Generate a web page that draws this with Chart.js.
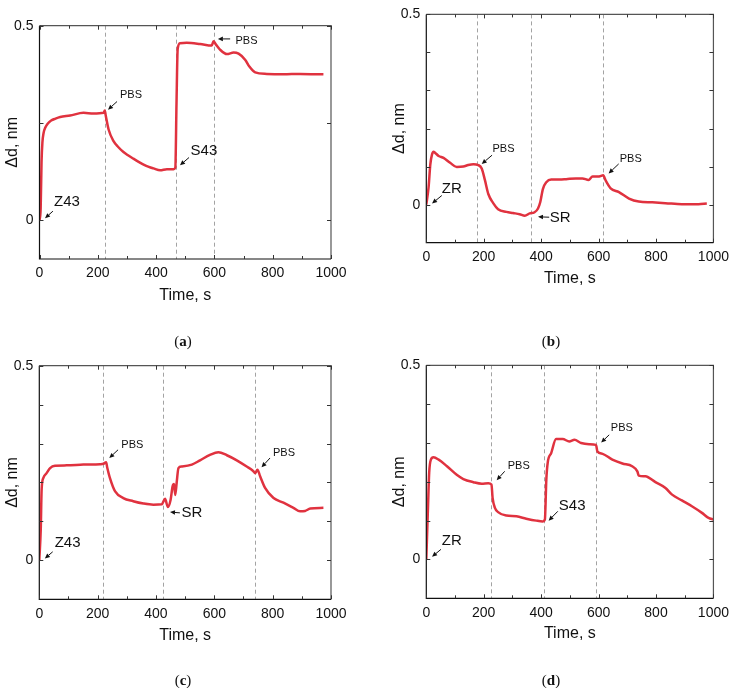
<!DOCTYPE html>
<html><head><meta charset="utf-8">
<script src="https://cdn.jsdelivr.net/npm/chart.js@4.4.0/dist/chart.umd.min.js"></script>
<style>
html,body{margin:0;padding:0;background:#fff;}
#wrap{position:relative;width:735px;height:688px;overflow:hidden;background:#fff;}
canvas{position:absolute;}
.cap{position:absolute;font-family:"Liberation Serif","Times New Roman",serif;font-size:15px;color:#111;transform:translate(-50%,-50%);white-space:nowrap;}
</style></head><body>
<div id="wrap">
<canvas id="ca" width="367" height="330" style="left:0px;top:0px;width:367px;height:330px"></canvas>
<canvas id="cb" width="368" height="330" style="left:367px;top:0px;width:368px;height:330px"></canvas>
<canvas id="cc" width="367" height="348" style="left:0px;top:340px;width:367px;height:348px"></canvas>
<canvas id="cd" width="368" height="348" style="left:367px;top:340px;width:368px;height:348px"></canvas>
<div class="cap" style="left:183px;top:341px">(<b>a</b>)</div>
<div class="cap" style="left:551px;top:341px">(<b>b</b>)</div>
<div class="cap" style="left:183px;top:680px">(<b>c</b>)</div>
<div class="cap" style="left:551px;top:680px">(<b>d</b>)</div>
</div>
<script>
// ---------- data ----------
const xTicks = [0,200,400,600,800,1000];

const aTime = [0,4,7,10,14,20,28,40,55,71,105,151,185,220,224,227,229,237,254,270,288,305,322,340,357,375,391,414,437,460,466,470,474,482,505,551,591,597,605,620,643,666,683,706,720,740,780,837,894,974];
const aVal  = [0,0.03,0.15,0.2,0.224,0.238,0.248,0.256,0.261,0.265,0.269,0.276,0.274,0.276,0.282,0.27,0.262,0.233,0.203,0.188,0.175,0.166,0.158,0.15,0.143,0.137,0.133,0.128,0.131,0.131,0.135,0.30,0.44,0.455,0.456,0.453,0.449,0.46,0.452,0.438,0.427,0.431,0.428,0.412,0.395,0.38,0.376,0.375,0.376,0.375];
const aMarks = [224,467,597];
const aLabels = ['Z43','PBS','S43','PBS'];

const bTime = [0,8,14,20,25,31,43,60,83,106,129,146,164,181,193,204,216,233,250,279,302,325,343,360,377,389,397,406,418,435,464,487,521,544,565,579,602,616,625,642,671,706,740,787,833,890,948,977];
const bVal  = [0,0.046,0.106,0.132,0.139,0.136,0.128,0.123,0.110,0.099,0.100,0.104,0.106,0.104,0.095,0.065,0.028,0.004,-0.012,-0.019,-0.022,-0.025,-0.029,-0.023,-0.020,-0.010,0.007,0.041,0.059,0.066,0.066,0.067,0.069,0.069,0.065,0.074,0.074,0.077,0.063,0.043,0.033,0.016,0.008,0.006,0.004,0.001,0.001,0.003];
const bMarks = [178,364,616];
const bLabels = ['ZR','PBS','SR','PBS'];

const cTime = [0,5,8,14,25,37,54,94,151,208,220,229,233,242,260,288,322,357,391,420,431,441,450,457,462,466,471,477,488,523,551,585,614,643,677,711,734,740,748,757,774,803,837,871,894,911,929,974];
const cVal  = [0,0.08,0.182,0.212,0.224,0.237,0.243,0.244,0.246,0.247,0.248,0.252,0.238,0.212,0.177,0.160,0.152,0.146,0.143,0.144,0.158,0.137,0.155,0.19,0.196,0.168,0.2,0.237,0.241,0.246,0.257,0.271,0.278,0.270,0.257,0.241,0.229,0.224,0.233,0.216,0.186,0.160,0.148,0.135,0.126,0.127,0.133,0.135];
const cMarks = [220,425,740];
const cLabels = ['Z43','PBS','SR','PBS'];

const dTime = [0,6,10,16,25,43,72,106,129,164,193,216,227,231,239,250,279,314,348,383,406,413,418,423,435,452,475,498,516,539,567,591,596,614,648,683,717,735,740,763,798,833,856,890,925,960,983,1000];
const dVal  = [0,0.137,0.223,0.257,0.263,0.257,0.240,0.218,0.207,0.199,0.195,0.196,0.193,0.158,0.133,0.122,0.113,0.111,0.105,0.100,0.098,0.103,0.205,0.25,0.274,0.310,0.310,0.304,0.308,0.300,0.297,0.295,0.278,0.272,0.257,0.247,0.240,0.227,0.216,0.214,0.199,0.184,0.167,0.152,0.137,0.120,0.107,0.103];
const dMarks = [227,409,591];
const dLabels = ['ZR','PBS','S43','PBS'];

// ---------- annotation placement (data coords: text, arrow tail, arrow head) ----------
const aNotePos = [[94,0.046,46,0.023,19,0.005],[314,0.323,266,0.305,235,0.284],[564,0.177,513,0.161,482,0.141],[710,0.461,654,0.466,612,0.466]];
const bNotePos = [[89,0.042,54,0.024,20,0.003],[269,0.146,229,0.13,193,0.107],[466,-0.036,428,-0.033,389,-0.032],[712,0.12,670,0.107,635,0.082]];
const cNotePos = [[97,0.044,46,0.022,19,0.005],[319,0.297,270,0.284,240,0.263],[523,0.123,482,0.122,448,0.124],[839,0.276,791,0.263,762,0.239]];
const dNotePos = [[89,0.047,51,0.026,20,0.007],[322,0.241,273,0.227,245,0.204],[508,0.139,458,0.124,426,0.1],[681,0.339,637,0.321,609,0.301]];

// ---------- rendering ----------
const FONT = '"Liberation Sans", Arial, Helvetica, sans-serif';
Chart.defaults.font.family = FONT;
Chart.defaults.color = '#111';

const boxPlugin = {
  id: 'box',
  beforeDatasetsDraw(chart, args, o) {
    const {ctx, chartArea: a, scales: {x}} = chart;
    ctx.save();
    ctx.strokeStyle = '#a3a3a3'; ctx.lineWidth = 1; ctx.setLineDash([4,3]);
    o.marks.forEach(m => {
      const px = Math.round(x.getPixelForValue(m)) + 0.5;
      ctx.beginPath(); ctx.moveTo(px, a.top); ctx.lineTo(px, a.bottom); ctx.stroke();
    });
    ctx.restore();
  },
  afterDatasetsDraw(chart, args, o) {
    const {ctx, chartArea: a, scales: {x, y}} = chart;
    ctx.save();
    ctx.lineWidth = 1.2;
    ctx.strokeStyle = '#555';
    ctx.beginPath(); ctx.moveTo(a.left, a.top); ctx.lineTo(a.right, a.top); ctx.lineTo(a.right, a.bottom); ctx.stroke();
    ctx.strokeStyle = '#111';
    ctx.beginPath(); ctx.moveTo(a.left, a.top); ctx.lineTo(a.left, a.bottom); ctx.lineTo(a.right, a.bottom); ctx.stroke();
    ctx.lineWidth = 1; ctx.strokeStyle = '#333';
    for (let v = 0; v <= 1000; v += 100) {
      const px = Math.round(x.getPixelForValue(v)) + 0.5;
      const L = (v % 200 === 0) ? 4 : 3;
      ctx.beginPath();
      ctx.moveTo(px, a.bottom); ctx.lineTo(px, a.bottom - L);
      ctx.moveTo(px, a.top); ctx.lineTo(px, a.top + L);
      ctx.stroke();
    }
    y.ticks.forEach(t => {
      const py = Math.round(y.getPixelForValue(t.value)) + 0.5;
      const L = 4;
      ctx.beginPath();
      ctx.moveTo(a.left, py); ctx.lineTo(a.left + L, py);
      ctx.moveTo(a.right, py); ctx.lineTo(a.right - L, py);
      ctx.stroke();
    });
    o.labels.forEach((txt, i) => {
      const p = o.pos[i];
      const tx = x.getPixelForValue(p[0]), ty = y.getPixelForValue(p[1]);
      const x1 = x.getPixelForValue(p[2]), y1 = y.getPixelForValue(p[3]);
      const x2 = x.getPixelForValue(p[4]), y2 = y.getPixelForValue(p[5]);
      ctx.strokeStyle = '#111'; ctx.fillStyle = '#111'; ctx.lineWidth = 1;
      const ang = Math.atan2(y2 - y1, x2 - x1);
      const hl = 5, hw = 2.3;
      const bx = x2 - hl * Math.cos(ang), by = y2 - hl * Math.sin(ang);
      ctx.beginPath(); ctx.moveTo(x1, y1); ctx.lineTo(bx, by); ctx.stroke();
      ctx.beginPath();
      ctx.moveTo(x2, y2);
      ctx.lineTo(bx + hw * Math.sin(ang), by - hw * Math.cos(ang));
      ctx.lineTo(bx - hw * Math.sin(ang), by + hw * Math.cos(ang));
      ctx.closePath(); ctx.fill();
      ctx.font = (txt === 'PBS' ? '11px ' : '15px ') + FONT;
      ctx.textAlign = 'center'; ctx.textBaseline = 'middle';
      ctx.fillText(txt, tx, ty);
    });
    ctx.restore();
  }
};

function makePanel(id, times, vals, marks, labels, pos, yTickVals, g) {
  const pts = times.map((t, i) => ({x: t, y: vals[i]}));
  new Chart(document.getElementById(id), {
    type: 'line',
    data: {datasets: [{data: pts, borderColor: '#e0323f', borderWidth: 2.5, pointRadius: 0,
      cubicInterpolationMode: 'monotone', fill: false}]},
    options: {
      responsive: false, animation: false, devicePixelRatio: 1,
      layout: {padding: {left: 0, top: g.top, right: g.W - g.right, bottom: 0}},
      plugins: {legend: {display: false}, tooltip: {enabled: false},
        box: {marks: marks, labels: labels, pos: pos}},
      scales: {
        x: {type: 'linear', min: 0, max: 1000,
          afterBuildTicks: s => { s.ticks = xTicks.map(v => ({value: v})); },
          afterFit: s => { s.height = g.H - g.bottom; },
          grid: {display: false, drawTicks: false}, border: {display: false},
          ticks: {autoSkip: false, maxRotation: 0, padding: 6, font: {size: 14}, color: '#111',
            callback: v => String(v)},
          title: {display: true, text: 'Time, s', font: {size: 16}, color: '#111',
            padding: {top: 0, bottom: (g.H - g.xTitleY) - 9.6}}
        },
        y: {type: 'linear', min: -0.1, max: 0.5,
          afterBuildTicks: s => { s.ticks = yTickVals.map(v => ({value: v})); },
          afterFit: s => { s.width = g.left; },
          grid: {display: false, drawTicks: false}, border: {display: false},
          ticks: {autoSkip: false, padding: 6, font: {size: 14}, color: '#111',
            callback: v => (Math.abs(v) < 1e-9 ? '0' : (Math.abs(v - 0.5) < 1e-9 ? '0.5' : ''))},
          title: {display: true, text: 'Δd, nm', font: {size: 16}, color: '#111',
            padding: {top: g.yTitleX - 9.6, bottom: 0}}
        }
      }
    },
    plugins: [boxPlugin]
  });
}

const tenths = [0,0.1,0.2,0.3,0.4,0.5];
makePanel('ca', aTime, aVal, aMarks, aLabels, aNotePos, [0,0.25,0.5],
  {W:367, H:330, left:39.5, right:331, top:25.7, bottom:259, yTitleX:12.5, xTitleY:296});
makePanel('cb', bTime, bVal, bMarks, bLabels, bNotePos, tenths,
  {W:368, H:330, left:59.3, right:348.3, top:11, bottom:242.7, yTitleX:33, xTitleY:278.5});
makePanel('cc', cTime, cVal, cMarks, cLabels, cNotePos, tenths,
  {W:367, H:348, left:39.3, right:331, top:25.7, bottom:259.3, yTitleX:12.5, xTitleY:296});
makePanel('cd', dTime, dVal, dMarks, dLabels, dNotePos, tenths,
  {W:368, H:348, left:59.3, right:348.3, top:25.3, bottom:258.3, yTitleX:33, xTitleY:294});
</script>
</body></html>
